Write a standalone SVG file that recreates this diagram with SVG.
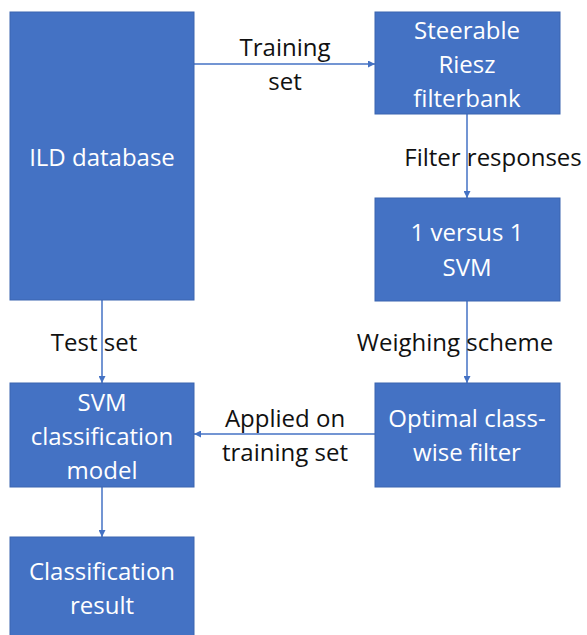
<svg xmlns="http://www.w3.org/2000/svg" width="587" height="635" viewBox="0 0 587 635">
  <style>
    .box { fill: #4472C4; stroke: #3A65B0; stroke-width: 1; }
    .in { fill: #FFFFFF; font-family: "Open Sans", "Noto Sans", sans-serif; font-size: 24px; text-anchor: middle; dominant-baseline: central; }
    .lbl { fill: #111111; font-family: "Open Sans", "Noto Sans", sans-serif; font-size: 24px; text-anchor: middle; dominant-baseline: central; }
    .edge { stroke: #4472C4; stroke-width: 1.5; fill: none; marker-end: url(#arrow); }
  </style>
  <defs>
    <marker id="arrow" viewBox="0 0 10 10" refX="10" refY="5" markerWidth="7" markerHeight="7" markerUnits="userSpaceOnUse" orient="auto">
      <path d="M0,0 L10,5 L0,10 z" fill="#4472C4"/>
    </marker>
  </defs>
  <rect width="587" height="635" fill="#FFFFFF"/>

  <!-- connectors -->
  <g id="connectors">
    <path class="edge" d="M194,64 H375"/>
    <path class="edge" d="M467,114 V198"/>
    <path class="edge" d="M467,301 V383"/>
    <path class="edge" d="M102,300 V383"/>
    <path class="edge" d="M375,434 H194"/>
    <path class="edge" d="M102,487 V537"/>
    <text class="lbl" x="285" y="46">Training</text>
    <text class="lbl" x="285" y="80">set</text>
    <text class="lbl" x="493" y="156">Filter responses</text>
    <text class="lbl" x="455" y="341">Weighing scheme</text>
    <text class="lbl" x="94" y="341">Test set</text>
    <text class="lbl" x="285" y="417">Applied on</text>
    <text class="lbl" x="285" y="451">training set</text>
  </g>

  <g id="ild-database">
    <rect class="box" x="10" y="12" width="184" height="288"/>
    <text class="in" x="102" y="156">ILD database</text>
  </g>

  <g id="riesz-filterbank">
    <rect class="box" x="375" y="12" width="185" height="102"/>
    <text class="in" x="467" y="29">Steerable</text>
    <text class="in" x="467" y="63">Riesz</text>
    <text class="in" x="467" y="97">filterbank</text>
  </g>

  <g id="svm-1v1">
    <rect class="box" x="375" y="198" width="185" height="103"/>
    <text class="in" x="467" y="231">1 versus 1</text>
    <text class="in" x="467" y="266">SVM</text>
  </g>

  <g id="optimal-filter">
    <rect class="box" x="375" y="383" width="185" height="104"/>
    <text class="in" x="467" y="417">Optimal class-</text>
    <text class="in" x="467" y="451">wise filter</text>
  </g>

  <g id="svm-model">
    <rect class="box" x="10" y="383" width="184" height="104"/>
    <text class="in" x="102" y="401">SVM</text>
    <text class="in" x="102" y="435">classification</text>
    <text class="in" x="102" y="469">model</text>
  </g>

  <g id="classification-result">
    <rect class="box" x="10" y="537" width="184" height="100"/>
    <text class="in" x="102" y="570">Classification</text>
    <text class="in" x="102" y="604">result</text>
  </g>
</svg>
